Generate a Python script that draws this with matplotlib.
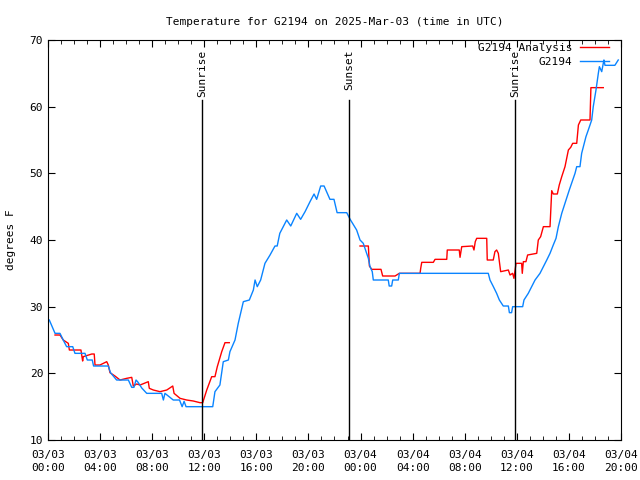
import matplotlib
matplotlib.use('Agg')
import matplotlib.pyplot as plt
import numpy as np

# hours since 2025-03-03 00:00 UTC
obs_hours = [0.1, 0.54, 0.92, 1.17, 1.43, 1.9, 2.07, 2.84, 3.02, 3.4, 3.5, 4.63, 4.8, 5.27,
             6.17, 6.43, 6.6, 6.76, 6.9, 7.2, 7.58, 8.73, 8.86, 8.98, 9.62, 10.1, 10.3, 10.45,
             10.6, 12.65, 12.82, 13.2, 13.46, 13.85, 13.97, 14.36, 14.61, 15.0, 15.46, 15.77,
             15.9, 16.07, 16.33, 16.66, 17.05, 17.43, 17.6, 17.8, 18.33, 18.64, 19.1, 19.4,
             19.74, 20.12, 20.43, 20.63, 20.94, 21.2, 21.65, 21.96, 22.2, 22.94, 23.2, 23.7,
             23.96, 24.21, 24.6, 24.73, 24.9, 24.98, 26.13, 26.2, 26.39, 26.47, 26.9, 26.98,
             33.81, 33.94, 34.2, 34.45, 34.66, 34.96, 35.35, 35.43, 35.6, 35.68, 36.45, 36.55,
             36.88, 37.14, 37.4, 37.78, 38.04, 38.3, 38.55, 38.8, 39.01, 39.19, 39.45, 39.78,
             40.03, 40.47, 40.6, 40.85, 40.98, 41.31, 41.49, 41.75, 41.87, 42.08, 42.26, 42.34,
             42.52, 42.64, 42.69, 42.77, 43.53, 43.79]
obs_temps = [28, 26, 26, 25, 24, 24, 23, 23, 22, 22, 21.1, 21.1, 20.1, 19,
             19, 17.9, 17.9, 19, 18.7, 17.8, 17, 17, 16, 17, 16, 16, 15, 15.8,
             15, 15, 17.25, 18.25, 21.75, 22, 23.25, 25, 27.5, 30.75, 31, 32.5,
             34, 33, 34, 36.5, 37.75, 39.1, 39.1, 41, 43, 42.1, 44, 43.1,
             44.25, 45.75, 46.9, 46.1, 48.1, 48.1, 46.1, 46.1, 44.1, 44.1, 43.1, 41.5,
             40, 39.5, 37.25, 36, 35.25, 34, 34, 33.1, 33.1, 34, 34, 35,
             35, 34, 33, 32, 31, 30.1, 30.1, 29.1, 29.1, 30, 30, 31,
             32, 33, 34, 35, 36, 37, 38, 39.25, 40.25, 42, 44, 46,
             47.5, 50, 51, 51, 53, 55.5, 56.5, 58, 60, 62.5, 65, 66,
             65.25, 66.5, 67, 66.2, 66.2, 67]

ana_hours = [0.54, 0.92, 1.17, 1.56, 1.64, 2.53, 2.66, 2.71, 3.36, 3.55, 3.61, 3.99, 4.51,
             4.63, 4.76, 5.14, 5.53, 6.04, 6.43, 6.55, 6.81, 7.07, 7.7, 7.78, 8.09, 8.6, 9.12,
             9.58, 9.68, 10.14, 10.65, 11.16, 11.67, 11.88, 12.19, 12.57, 12.82, 13.0, 13.34,
             13.59, 13.92, np.nan,
             23.96, 24.6, 24.68, 24.86, 25.57, 25.7, 26.65, 26.98, 28.57, 28.62, 28.7, 29.59,
             29.72, 30.62, 30.66, 31.58, 31.64, 31.77, 32.61, 32.71, 32.81, 32.92, 33.69, 33.73,
             34.19, 34.32, 34.45, 34.58, 34.76, 35.35, 35.48, 35.68, 35.78, 35.94, 36.37, 36.42,
             36.5, 36.7, 36.83, 37.53, 37.65, 37.83, 38.04, 38.55, 38.68, 38.8, 39.11, 39.26,
             39.45, 39.7, 39.96, 40.14, 40.29, 40.6, 40.73, 40.91, 41.62, 41.69, 42.64]
ana_temps = [25.75, 25.75, 25, 24.5, 23.5, 23.5, 21.85, 22.5, 22.9, 22.9, 21.25, 21.25, 21.75,
             21.25, 20.1, 19.6, 19, 19.25, 19.4, 18.1, 18.4, 18.25, 18.75, 17.75, 17.5, 17.25, 17.5,
             18.1, 17, 16.25, 16, 15.85, 15.6, 15.6, 17.5, 19.5, 19.5, 21, 23.25,
             24.6, 24.6, np.nan,
             39.1, 39.1, 36.1, 35.6, 35.6, 34.6, 34.6, 35, 35, 35.75, 36.65, 36.65,
             37.1, 37.1, 38.5, 38.5, 37.4, 39, 39.1, 38.5, 39.75, 40.25, 40.25, 37,
             37, 38.25, 38.5, 38, 35.25, 35.5, 34.75, 35, 34.25, 36.5, 36.5, 35,
             36.75, 36.75, 37.75, 38, 40, 40.5, 42, 42, 47.4, 46.9, 46.9, 48.25,
             49.5, 51, 53.5, 53.9, 54.5, 54.5, 57.25, 58, 58, 62.85, 62.85]

sun_hours = [11.83, 23.11, 35.86]
sun_labels = ['Sunrise', 'Sunset', 'Sunrise']

tick_hours = list(range(0, 45, 4))
tick_labels = ['03/03\n00:00', '03/03\n04:00', '03/03\n08:00', '03/03\n12:00',
               '03/03\n16:00', '03/03\n20:00', '03/04\n00:00', '03/04\n04:00',
               '03/04\n08:00', '03/04\n12:00', '03/04\n16:00', '03/04\n20:00']

plt.rcParams['font.family'] = 'DejaVu Sans Mono'
plt.rcParams['font.size'] = 8

fig = plt.figure(figsize=(6.4, 4.8), dpi=100)
ax = fig.add_axes([0.075, 0.0833, 0.8953, 0.8334])

ax.plot(ana_hours, ana_temps, color='#ff0000', lw=1, label='G2194 Analysis')
ax.plot(obs_hours, obs_temps, color='#0a84ff', lw=1, label='G2194')

for h, lab in zip(sun_hours, sun_labels):
    ax.plot([h, h], [10, 61], color='black', lw=1)
    ax.text(h, 68.6, lab, rotation=90, ha='center', va='top', fontsize=8)

ax.set_xlim(0, 44)
ax.set_ylim(10, 70)
ax.set_xticks(tick_hours)
ax.set_xticklabels(tick_labels, linespacing=1.45)
ax.set_xticks(range(0, 45), minor=True)
ax.set_yticks(range(10, 71, 10))
ax.tick_params(which='both', direction='in', top=True, right=True, labelsize=8)
ax.tick_params(which='major', length=5)
ax.tick_params(which='minor', length=3)
ax.tick_params(axis='x', which='major', pad=7)
ax.set_ylabel('degrees F', fontsize=8)
ax.yaxis.set_label_coords(-0.055, 0.5)
ax.set_title('Temperature for G2194 on 2025-Mar-03 (time in UTC)', fontsize=8, pad=11)

ax.legend(loc='upper right', bbox_to_anchor=(1 - 12 / 573, 1 - 3 / 400),
          frameon=False, markerfirst=False, fontsize=8,
          handlelength=2.6, handletextpad=0.7, labelspacing=0.35,
          borderaxespad=0.0, borderpad=0.0)

fig.savefig('out.png', dpi=100)
